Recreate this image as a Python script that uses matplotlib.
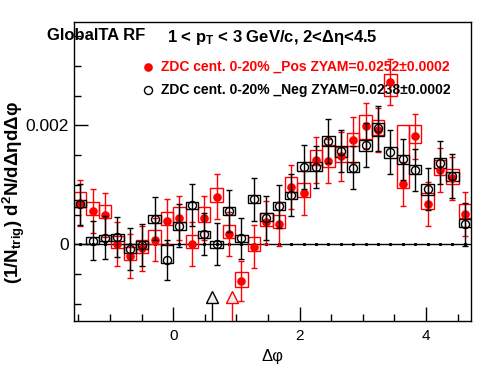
import numpy as np
import matplotlib
matplotlib.use("Agg")
import matplotlib.pyplot as plt
from matplotlib.ticker import MultipleLocator, FixedLocator, FixedFormatter

plt.rcParams["font.family"] = ["Liberation Sans", "DejaVu Sans"]
plt.rcParams["mathtext.fontset"] = "custom"
plt.rcParams["mathtext.rm"] = "Liberation Sans:bold"
plt.rcParams["mathtext.it"] = "Liberation Sans:bold"
plt.rcParams["mathtext.bf"] = "Liberation Sans:bold"

# 32 bins in delta-phi, from -pi/2 to 3pi/2
n_bins = 32
phi_edges = np.linspace(-np.pi / 2, 3 * np.pi / 2, n_bins + 1)
phi = 0.5 * (phi_edges[:-1] + phi_edges[1:])
bin_w = phi_edges[1] - phi_edges[0]

# ZDC cent. 0-20% _Pos (units of 1e-3)
pos_val = [0.69, 0.56, 0.50, 0.00, -0.20, -0.07, 0.08, 0.39, 0.45, 0.005, 0.45, 0.80,
           0.17, -0.62, -0.04, 0.37, 0.34, 0.96, 0.86, 1.42, 1.40, 1.48, 1.76, 1.99,
           1.92, 2.73, 1.01, 1.82, 0.68, 1.25, 1.11, 0.51]
pos_err = [0.385, 0.37, 0.37, 0.37, 0.37, 0.38, 0.36, 0.38, 0.37, 0.37, 0.37, 0.375,
           0.37, 0.34, 0.365, 0.365, 0.37, 0.37, 0.37, 0.385, 0.37, 0.41, 0.385, 0.385,
           0.375, 0.385, 0.37, 0.38, 0.375, 0.365, 0.365, 0.365]
pos_sys_lo = [0.63, 0.49, 0.44, -0.07, -0.26, -0.14, 0.00, 0.32, 0.38, -0.07, 0.38, 0.71,
              0.10, -0.71, -0.11, 0.30, 0.27, 0.88, 0.79, 1.33, 1.30, 1.39, 1.65, 1.78,
              1.84, 2.50, 0.94, 1.70, 0.59, 1.16, 1.01, 0.44]
pos_sys_hi = [0.88, 0.71, 0.66, 0.14, -0.04, 0.08, 0.24, 0.55, 0.62, 0.16, 0.62, 0.94,
              0.32, -0.46, 0.12, 0.52, 0.49, 1.13, 1.03, 1.58, 1.67, 1.64, 1.87, 2.17,
              2.09, 2.87, 2.00, 2.00, 0.87, 1.42, 1.26, 0.67]

# ZDC cent. 0-20% _Neg (units of 1e-3)
neg_val = [0.67, 0.06, 0.11, 0.12, -0.08, -0.01, 0.43, -0.26, 0.31, 0.66, 0.17, 0.005,
           0.56, 0.10, 0.76, 0.45, 0.64, 0.83, 1.30, 1.30, 1.74, 1.57, 1.29, 1.67,
           1.95, 1.55, 1.43, 1.25, 0.93, 1.37, 1.15, 0.34]
neg_err = [0.35, 0.33, 0.36, 0.34, 0.36, 0.35, 0.36, 0.34, 0.36, 0.35, 0.35, 0.35,
           0.36, 0.35, 0.36, 0.37, 0.36, 0.36, 0.37, 0.35, 0.37, 0.36, 0.36, 0.37,
           0.38, 0.37, 0.35, 0.36, 0.36, 0.36, 0.37, 0.36]
neg_sys_lo = [0.63, 0.005, 0.05, 0.06, -0.14, -0.08, 0.36, -0.32, 0.24, 0.60, 0.10, -0.06,
              0.49, 0.04, 0.69, 0.40, 0.58, 0.76, 1.24, 1.24, 1.65, 1.47, 1.22, 1.57,
              1.82, 1.45, 1.35, 1.18, 0.83, 1.29, 1.07, 0.29]
neg_sys_hi = [0.74, 0.13, 0.16, 0.17, 0.00, 0.05, 0.49, -0.01, 0.38, 0.72, 0.23, 0.06,
              0.62, 0.16, 0.83, 0.52, 0.71, 0.88, 1.38, 1.38, 1.83, 1.66, 1.39, 1.76,
              2.04, 1.64, 1.51, 1.33, 1.01, 1.45, 1.22, 0.42]

# ZYAM minimum positions (neg, pos)
zyam_phi = [0.617, 0.934]
zyam_colors = ["black", "red"]

scale = 1e-3
ymin, ymax = -1.29e-3, 3.74e-3

fig = plt.figure(figsize=(4.96, 3.74), dpi=100)
ax = fig.add_axes([74 / 496, 53 / 374, 397 / 496, 299 / 374])

# systematic boxes
for lo, hi, col in [(pos_sys_lo, pos_sys_hi, "red"), (neg_sys_lo, neg_sys_hi, "black")]:
    lo = np.array(lo) * scale
    hi = np.array(hi) * scale
    ax.bar(phi, hi - lo, bottom=lo, width=bin_w, fill=False, edgecolor=col,
           linewidth=1.0, zorder=2)

# zero line
ax.axhline(0, color="black", linewidth=1.0, zorder=1)
ax.plot(phi, np.zeros(n_bins), ls="none", marker="s", ms=1.2, color="black", zorder=1)

ax.errorbar(phi, np.array(pos_val) * scale, yerr=np.array(pos_err) * scale, fmt="o",
            color="red", ms=5.2, elinewidth=1.0, capsize=2.2, capthick=1.0, zorder=3)
ax.errorbar(phi, np.array(neg_val) * scale, yerr=np.array(neg_err) * scale, fmt="o",
            color="black", mfc="none", mew=1.0, ms=5.8, elinewidth=1.0, capsize=2.2,
            capthick=1.0, zorder=4)

# ZYAM arrows
for xz, col in zip(zyam_phi, zyam_colors):
    ax.plot([xz, xz], [ymin, -0.98e-3], color=col, linewidth=1.0, zorder=5)
    ax.plot(xz, -0.885e-3, marker="^", ms=8, mfc="#eeeeee", mec=col, mew=1.0, zorder=5)

ax.set_xlim(-np.pi / 2, 3 * np.pi / 2)
ax.set_ylim(ymin, ymax)
ax.xaxis.set_major_locator(MultipleLocator(2))
ax.xaxis.set_minor_locator(MultipleLocator(0.5))
ax.yaxis.set_major_locator(FixedLocator([0, 0.002]))
ax.yaxis.set_major_formatter(FixedFormatter(["0", "0.002"]))
ax.yaxis.set_minor_locator(MultipleLocator(0.0005))
ax.tick_params(which="both", direction="in", top=False, right=False, labelsize=11)
ax.tick_params(axis="y", labelsize=12.5)
ax.tick_params(which="major", length=10, width=1.0)
ax.tick_params(which="minor", length=5, width=1.0)
ax.tick_params(axis="x", pad=6)
for s in ax.spines.values():
    s.set_linewidth(1.0)

ax.set_xlabel("Δφ", fontsize=12)
ax.set_ylabel(r"(1/N$_{\rm trig}$) d$^{2}$N/dΔηdΔφ", fontsize=13.5, fontweight="bold")
ax.yaxis.set_label_coords(-(74 - 27) / 397, 0.43)

fig.text(47 / 496, 1 - 35 / 374, "GlobalTA RF", fontsize=12, fontweight="bold",
         va="center", ha="left")
fig.text(167 / 496, 1 - 42 / 374, r"1 < p$_{\rm T}$ < 3 GeV/c, 2<Δη<4.5", fontsize=12,
         fontweight="bold", va="baseline", ha="left")

# legend
ax.plot((148 - 74) / 397, (321 - 67) / 299, "o", color="red", ms=5.2,
        transform=ax.transAxes, clip_on=False)
ax.plot((148 - 74) / 397, (321 - 90) / 299, "o", color="black", mfc="white", mew=1.0,
        ms=5.8, transform=ax.transAxes, clip_on=False)
ax.text((161 - 74) / 397, (321 - 67) / 299, "ZDC cent. 0-20% _Pos ZYAM=0.0252±0.0002",
        color="red", fontsize=10, fontweight="bold", va="center", transform=ax.transAxes)
ax.text((161 - 74) / 397, (321 - 90) / 299, "ZDC cent. 0-20% _Neg ZYAM=0.0238±0.0002",
        color="black", fontsize=10, fontweight="bold", va="center", transform=ax.transAxes)

fig.savefig("out.png", dpi=100)
